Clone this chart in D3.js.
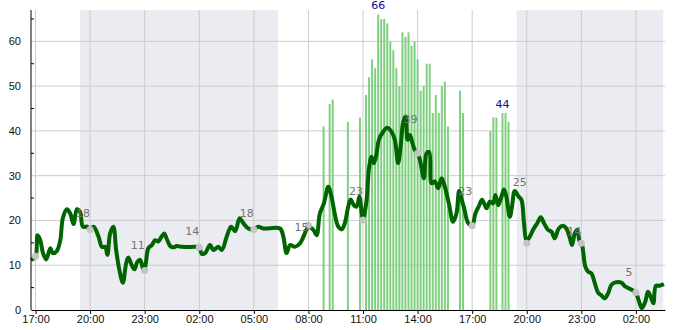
<!DOCTYPE html>
<html>
<head>
<meta charset="utf-8">
<script src="https://cdn.jsdelivr.net/npm/d3@7"></script>
<style>
  body { margin: 0; background: #fff; }
  svg { display: block; font-family: "DejaVu Sans", sans-serif; }
  .axis text { font-size: 11px; fill: #111; }
  .axis path, .axis line { stroke: #000; }
</style>
</head>
<body>
<script>
// hours counted from 17:00 of the first day
const start = new Date(2024, 5, 10, 17, 0);
const at = h => new Date(+start + h * 3600e3);

const tickHours = [0, 3, 6, 9, 12, 15, 18, 21, 24, 27, 30, 33];
const yTicks = [0, 10, 20, 30, 40, 50, 60];
const yMinor = [5, 15, 25, 35, 45, 55, 65];

// night shading (sunset -> sunrise)
const nights = [[2.45, 13.32], [26.45, 34.5]];

// line series [hour, value]
const speed = [
  [-0.25, 11.2], [0, 11.9], [0.11, 16.7], [0.26, 15.6], [0.41, 12.7], [0.59, 11.3], [0.81, 13.8],
  [0.95, 12.7], [1.17, 13.2], [1.36, 15.6], [1.5, 20.5], [1.72, 22.5], [1.9, 21.6], [2.09, 19.2],
  [2.27, 22.5], [2.45, 21.9], [2.6, 18.6], [2.86, 18.6], [2.97, 18], [3.19, 18.6], [3.46, 16.4],
  [3.65, 14.1], [3.83, 14.1], [3.95, 12.3], [4.1, 17.1], [4.28, 18.6], [4.43, 13.4], [4.61, 8.9],
  [4.8, 6.1], [4.98, 10.4], [5.1, 11.7], [5.29, 10], [5.44, 9.1], [5.6, 10.8], [5.75, 11.2],
  [5.9, 9.3], [5.97, 8.8], [6.06, 10.4], [6.2, 13.8], [6.39, 14.5], [6.57, 15.6], [6.75, 15.3],
  [6.9, 16.2], [7.07, 17.1], [7.22, 15.8], [7.4, 14.3], [7.58, 14], [7.76, 14.3], [8.04, 14.1],
  [8.86, 14.1], [9, 14], [9.14, 12.5], [9.32, 12.7], [9.59, 14.5], [9.78, 13.4], [10.05, 14.1],
  [10.24, 13.4], [10.51, 16.4], [10.75, 18.6], [10.97, 17.6], [11.22, 20.5], [11.42, 19.4],
  [11.7, 18.2], [11.97, 18], [12.25, 18.6], [12.52, 18.2], [13.44, 18.2], [13.62, 16.4],
  [13.8, 12.7], [13.99, 14.5], [14.26, 14.1], [14.54, 14.9], [14.76, 16.7], [14.99, 18.5],
  [15.27, 17.9], [15.45, 16.7], [15.63, 21.6], [15.85, 23.8], [16.09, 27.5], [16.27, 25.3],
  [16.46, 21.2], [16.64, 18.6], [16.83, 18], [17.0, 19.4], [17.19, 23.1], [17.32, 24.7],
  [17.5, 23.4], [17.65, 23.1], [17.8, 25.3], [17.93, 21.6], [18.0, 20.1], [18.07, 21.2],
  [18.2, 24.6], [18.34, 32], [18.47, 34.2], [18.6, 32.8], [18.75, 35], [18.87, 38], [19.11, 39.8],
  [19.33, 40.7], [19.57, 39.8], [19.75, 38], [19.93, 32.8], [20.07, 36.5], [20.21, 42],
  [20.34, 43.2], [20.45, 38], [20.58, 39.1], [20.72, 37.2], [20.9, 35.3], [21, 35], [21.13, 33.5],
  [21.35, 29.4], [21.49, 35], [21.64, 35.3], [21.77, 28.3], [21.95, 28.7], [22.13, 27.2],
  [22.32, 29.4], [22.5, 27.5], [22.74, 23.4], [22.95, 19.7], [23.14, 21.6], [23.28, 26.6],
  [23.38, 25.3], [23.56, 22.7], [23.78, 19.4], [24, 18.8], [24.18, 21.6], [24.37, 23.2],
  [24.55, 24.6], [24.79, 22.7], [24.97, 24.2], [25.15, 23.8], [25.28, 25.7], [25.43, 23.4],
  [25.61, 25.3], [25.75, 26.9], [25.88, 25.3], [26.07, 20.8], [26.19, 23.1], [26.34, 26.6],
  [26.56, 25.3], [26.71, 24.6], [26.85, 19.4], [26.98, 15.5], [27.11, 16], [27.35, 17.9],
  [27.59, 19.5], [27.77, 20.7], [27.95, 19.4], [28.17, 17.9], [28.36, 17.5], [28.54, 16],
  [28.76, 18.2], [29, 18.8], [29.18, 18.2], [29.36, 16.2], [29.49, 14.5], [29.64, 17.1],
  [29.78, 17.9], [29.91, 15.3], [30.02, 14.9], [30.09, 13.4], [30.22, 9.7], [30.37, 8.6],
  [30.55, 8.2], [30.74, 6], [30.92, 3.9], [31.1, 3.3], [31.28, 2.6], [31.47, 3.7], [31.65, 5.6],
  [31.83, 6.1], [32.2, 6.1], [32.42, 5.2], [32.75, 4.6], [32.93, 4.1], [33, 3.9], [33.15, 2.2],
  [33.33, 0.4], [33.52, 1.9], [33.66, 4.1], [33.81, 3], [33.96, 1.5], [34.1, 5.4], [34.3, 5.4],
  [34.54, 5.8]
];

// grey markers at each 3h tick, and the numbers written next to them
const dotValues = [12, 18, 8.8, 14, 18, 18.9, 20.1, 35, 18.8, 14.9, 14.9, 3.9];
const dotLabels = [null, 18, 11, 14, 18, 15, 23, 39, 23, 25, 14, 5];

// bars, next day clock time
const barTimes = ['08:50', '09:10', '09:20', '10:10', '10:50', '11:10', '11:20', '11:30', '11:40',
  '11:50', '12:00', '12:10', '12:20', '12:30', '12:40', '12:50', '13:00', '13:10', '13:20', '13:30',
  '13:40', '13:50', '14:00', '14:10', '14:20', '14:30', '14:40', '14:50', '15:00', '15:10', '15:20',
  '15:30', '15:40', '16:20', '16:30', '18:00', '18:10', '18:20', '18:40', '18:50', '19:00'];
const barValues = [41, 46, 47, 42, 43, 48, 52, 56, 54, 66, 65, 65, 64, 60, 58, 54, 50, 62, 61, 62,
  59, 60, 56, 49, 50, 55, 55, 44, 48, 44, 50, 51, 41, 49, 44, 40, 43, 43, 44, 44, 42];
const barMaxLabels = ['11:50', '18:40'];

const width = 685;
const height = 330;
const margin = {top: 10, right: 20, bottom: 20, left: 31};

const barHour = s => {
  const [hh, mm] = s.split(':').map(Number);
  return 7 + hh + mm / 60;
};

const x = d3.scaleTime()
  .domain([at(-0.25), at(34.6)])
  .range([margin.left, width - margin.right]);
const y = d3.scaleLinear()
  .domain([0, 67])
  .range([height - margin.bottom, margin.top]);

const svg = d3.select('body').append('svg')
  .attr('width', width)
  .attr('height', height);

svg.append('g')
  .selectAll('rect')
  .data(nights)
  .enter().append('rect')
    .attr('x', d => x(at(d[0])))
    .attr('y', margin.top)
    .attr('width', d => x(at(d[1])) - x(at(d[0])))
    .attr('height', y(0) - margin.top)
    .attr('fill', '#ebecf2');

// grid
svg.append('g')
  .selectAll('line')
  .data(yTicks.slice(1))
  .enter().append('line')
    .attr('x1', margin.left).attr('x2', width - margin.right)
    .attr('y1', d => y(d)).attr('y2', d => y(d))
    .attr('stroke', '#cccccc');
svg.append('g')
  .selectAll('line')
  .data(tickHours)
  .enter().append('line')
    .attr('x1', d => x(at(d))).attr('x2', d => x(at(d)))
    .attr('y1', margin.top).attr('y2', y(0))
    .attr('stroke', '#cccccc');

svg.append('g')
  .selectAll('rect')
  .data(barTimes.map((t, i) => [t, barValues[i]]))
  .enter().append('rect')
    .attr('x', d => x(at(barHour(d[0]))) - 1)
    .attr('y', d => y(d[1]))
    .attr('width', 2)
    .attr('height', d => y(0) - y(d[1]))
    .attr('fill', '#80cf80');

const line = d3.line()
  .x(d => x(at(d[0])))
  .y(d => y(d[1]))
  .curve(d3.curveCatmullRom);

svg.append('path')
    .datum(speed)
    .attr('d', line)
    .attr('fill', 'none')
    .attr('stroke', '#006400')
    .attr('stroke-width', 4)
    .attr('stroke-linejoin', 'round');

svg.append('g')
  .selectAll('circle')
  .data(dotValues.map((v, i) => [tickHours[i], v]))
  .enter().append('circle')
    .attr('cx', d => x(at(d[0])))
    .attr('cy', d => y(d[1]))
    .attr('r', 3.5)
    .attr('fill', '#c4c4c4');

// labels of the line, drawn on top
svg.append('g')
  .selectAll('text')
  .data(dotLabels.map((v, i) => [tickHours[i], v]).filter(d => d[1] !== null))
  .enter().append('text')
    .attr('x', d => x(at(d[0])) - 7)
    .attr('y', d => y(d[1]) - 12)
    .attr('text-anchor', 'middle')
    .attr('font-size', 11)
    .attr('fill', '#737373')
    .text(d => d[1]);

svg.append('g')
  .selectAll('text')
  .data(barMaxLabels)
  .enter().append('text')
    .attr('x', d => x(at(barHour(d))))
    .attr('y', d => y(barValues[barTimes.indexOf(d)]) - 5)
    .attr('text-anchor', 'middle')
    .attr('font-size', 11)
    .attr('fill', '#0b0b96')
    .text(d => barValues[barTimes.indexOf(d)]);

// axes
svg.append('g')
    .attr('class', 'axis')
    .attr('transform', `translate(0,${y(0)})`)
    .call(d3.axisBottom(x)
      .tickValues(tickHours.map(at))
      .tickFormat(d3.timeFormat('%H:%M'))
      .tickSizeInner(4)
      .tickSizeOuter(0)
      .tickPadding(1));

const yAxis = svg.append('g')
    .attr('class', 'axis')
    .attr('transform', `translate(${margin.left},0)`)
    .call(d3.axisLeft(y)
      .tickValues(yTicks)
      .tickSize(0)
      .tickPadding(10));
yAxis.select('.domain').attr('d', `M0,${y(0)}V${margin.top}`);
yAxis.selectAll('.minor')
  .data(yMinor)
  .enter().append('line')
    .attr('class', 'minor')
    .attr('x1', 0).attr('x2', 3)
    .attr('y1', d => y(d)).attr('y2', d => y(d))
    .attr('stroke', '#000');
</script>
</body>
</html>
